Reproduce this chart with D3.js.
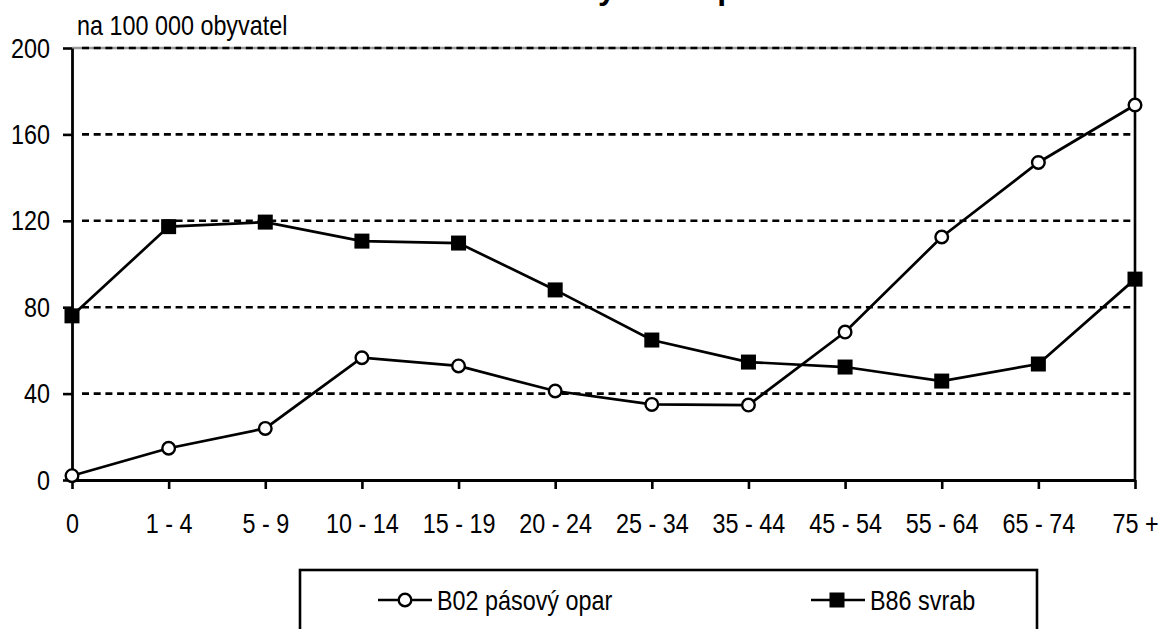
<!DOCTYPE html>
<html>
<head>
<meta charset="utf-8">
<script src="https://cdn.jsdelivr.net/npm/d3@7"></script>
<style>
    body { margin: 0; background: #fff; }
    text { font-family: "Liberation Sans", Arial, sans-serif; fill: #000; }
</style>
</head>
<body>
<div id="chart"></div>
<script>
const ageGroups = ['0', '1 - 4', '5 - 9', '10 - 14', '15 - 19', '20 - 24', '25 - 34', '35 - 44', '45 - 54', '55 - 64', '65 - 74', '75 +'];
const herpesZoster = [2, 14.7, 23.9, 56.6, 52.8, 41.2, 35, 34.7, 68.5, 112.5, 147, 173.6];
const scabies = [76, 117.3, 119.4, 110.6, 109.7, 88, 64.8, 54.6, 52.3, 45.8, 53.7, 93];
const yTicks = [0, 40, 80, 120, 160, 200];
const seriesNames = ['B02 pásový opar', 'B86 svrab'];
const titleText = 'Nemocnost dle věkových skupin v roce 2003';
const unitLabel = 'na 100 000 obyvatel';

const width = 1161;
const height = 629;
const plotLeft = 72;
const plotRight = 1135;
const plotTop = 48;
const plotBottom = 480;
const narrow = 0.82; // the original uses Arial Narrow
const fontSize = 28.5;

const svg = d3.select('#chart').append('svg')
    .attr('width', width)
    .attr('height', height);

const x = d3.scalePoint()
    .domain(ageGroups)
    .range([plotLeft, plotRight]);

const y = d3.scaleLinear()
    .domain([0, 200])
    .range([plotBottom, plotTop]);

// title, almost entirely above the visible area (cut off like the original)
svg.append('text')
    .attr('x', 269)
    .attr('y', -1)
    .attr('font-size', 32)
    .attr('font-weight', 'bold')
    .text(titleText);

// gridlines
svg.append('line')
    .attr('x1', plotLeft).attr('x2', plotRight)
    .attr('y1', y(200)).attr('y2', y(200))
    .attr('stroke', '#999').attr('stroke-width', 2.5);
svg.append('g')
    .selectAll('line')
    .data(yTicks.filter(d => d > 0))
    .enter()
    .append('line')
    .attr('x1', plotLeft + 10)
    .attr('x2', plotRight)
    .attr('y1', d => y(d))
    .attr('y2', d => y(d))
    .attr('stroke', '#000')
    .attr('stroke-width', 2.6)
    .attr('stroke-dasharray', '7 4.7');

// right border
svg.append('line')
    .attr('x1', plotRight).attr('x2', plotRight)
    .attr('y1', plotTop - 1).attr('y2', plotBottom)
    .attr('stroke', '#000').attr('stroke-width', 2.6);

// axes
const yAxis = svg.append('g')
    .attr('transform', `translate(${plotLeft},0)`)
    .call(d3.axisLeft(y).tickValues(yTicks).tickSize(9).tickPadding(13).tickSizeOuter(0));

const xAxis = svg.append('g')
    .attr('transform', `translate(0,${plotBottom})`)
    .call(d3.axisBottom(x).tickSize(9).tickPadding(24).tickSizeOuter(0));

[yAxis, xAxis].forEach(axis => {
    axis.select('.domain').attr('stroke', '#000').attr('stroke-width', 2.8);
    axis.selectAll('.tick line').attr('stroke', '#000').attr('stroke-width', 2.6);
    axis.selectAll('.tick text')
        .attr('font-family', '"Liberation Sans", Arial, sans-serif')
        .attr('font-size', fontSize)
        .attr('fill', '#000');
});
yAxis.selectAll('.tick text')
    .attr('x', -22 / narrow)
    .attr('transform', `scale(${narrow},1)`);
xAxis.selectAll('.tick text')
    .attr('transform', `scale(${narrow},1)`);

// unit label
svg.append('g')
    .attr('transform', `translate(77,35) scale(${narrow},1)`)
    .append('text')
    .attr('font-size', fontSize)
    .text(unitLabel);

// series
const line = d3.line()
    .x((d, i) => x(ageGroups[i]))
    .y(d => y(d));

[scabies, herpesZoster].forEach(values => {
    svg.append('path')
        .datum(values)
        .attr('d', line)
        .attr('fill', 'none')
        .attr('stroke', '#000')
        .attr('stroke-width', 2.7);
});

const squareSize = 15;
svg.append('g')
    .selectAll('rect')
    .data(scabies)
    .enter()
    .append('rect')
    .attr('x', (d, i) => x(ageGroups[i]) - squareSize / 2)
    .attr('y', d => y(d) - squareSize / 2)
    .attr('width', squareSize)
    .attr('height', squareSize)
    .attr('fill', '#000');

svg.append('g')
    .selectAll('circle')
    .data(herpesZoster)
    .enter()
    .append('circle')
    .attr('cx', (d, i) => x(ageGroups[i]))
    .attr('cy', d => y(d))
    .attr('r', 6.3)
    .attr('fill', '#fff')
    .attr('stroke', '#000')
    .attr('stroke-width', 2.4);

// legend
const legend = svg.append('g');
legend.append('rect')
    .attr('x', 300)
    .attr('y', 570)
    .attr('width', 737)
    .attr('height', 100)
    .attr('fill', '#fff')
    .attr('stroke', '#000')
    .attr('stroke-width', 2.6);

const legendItems = [
    { name: seriesNames[0], x: 378, marker: 'circle' },
    { name: seriesNames[1], x: 811, marker: 'square' }
];
const legendY = 600;

legendItems.forEach(item => {
    legend.append('line')
        .attr('x1', item.x).attr('x2', item.x + 54)
        .attr('y1', legendY).attr('y2', legendY)
        .attr('stroke', '#000').attr('stroke-width', 2.7);
    if (item.marker === 'circle') {
        legend.append('circle')
            .attr('cx', item.x + 27).attr('cy', legendY).attr('r', 6.3)
            .attr('fill', '#fff').attr('stroke', '#000').attr('stroke-width', 2.4);
    } else {
        legend.append('rect')
            .attr('x', item.x + 26 - squareSize / 2).attr('y', legendY - squareSize / 2)
            .attr('width', squareSize).attr('height', squareSize)
            .attr('fill', '#000');
    }
    legend.append('g')
        .attr('transform', `translate(${item.x + 59},${legendY + 10}) scale(${narrow},1)`)
        .append('text')
        .attr('font-size', fontSize)
        .text(item.name);
});
</script>
</body>
</html>
